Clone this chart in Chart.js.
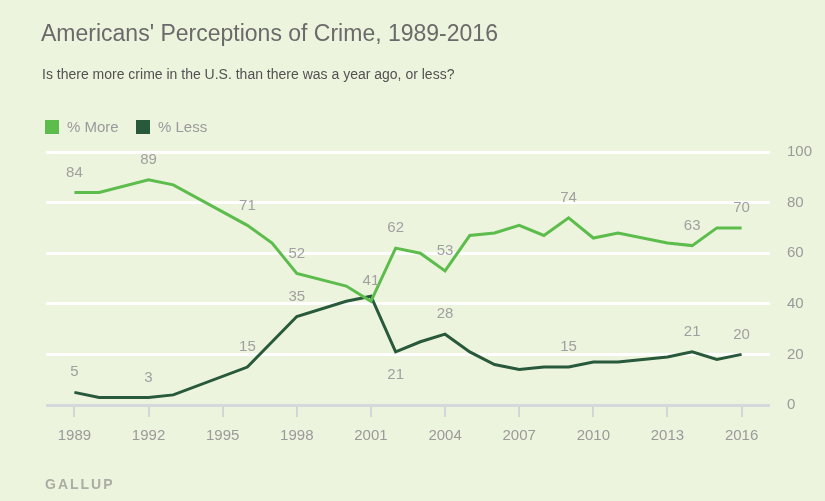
<!DOCTYPE html>
<html>
<head>
<meta charset="utf-8">
<script src="https://cdn.jsdelivr.net/npm/chart.js@4.4.0/dist/chart.umd.min.js"></script>
<style>
    html, body { margin: 0; padding: 0; background: #edf4de; }
    #wrap { position: relative; width: 825px; height: 501px; font-family: "Liberation Sans", Arial, sans-serif; }
    #chart_canvas { position: absolute; left: 0; top: 0; }
    .txt { position: absolute; white-space: nowrap; line-height: 1; }
    #chart_title { left: 41px; top: 22px; font-size: 23px; color: #6a6a6a; }
    #chart_subtitle { left: 42px; top: 67px; font-size: 14px; color: #525252; }
    .legend_item { position: absolute; top: 119px; height: 15px; display: flex; align-items: center; font-size: 15px; color: #9a9a9a; }
    .legend_box { width: 14px; height: 14px; margin-right: 8px; }
    #chart_source { left: 45px; top: 477px; font-size: 14px; font-weight: bold; letter-spacing: 2px; color: #a9ada3; }
</style>
</head>
<body>
<div id="wrap">
    <canvas id="chart_canvas" width="825" height="501"></canvas>
    <div class="txt" id="chart_title"></div>
    <div class="txt" id="chart_subtitle"></div>
    <div id="chart_legend"></div>
    <div class="txt" id="chart_source"></div>
</div>
<script>
// values
let years = [1989, 1990, 1992, 1993, 1996, 1997, 1998, 2000, 2001, 2002, 2003, 2004,
    2005, 2006, 2007, 2008, 2009, 2010, 2011, 2013, 2014, 2015, 2016];
let moreValues = [84, 84, 89, 87, 71, 64, 52, 47, 41, 62, 60, 53, 67, 68, 71, 67, 74, 66, 68, 64, 63, 70, 70];
let lessValues = [5, 3, 3, 4, 15, 25, 35, 41, 43, 21, 25, 28, 21, 16, 14, 15, 15, 17, 17, 19, 21, 18, 20];

let seriesNames = ["% More", "% Less"];
let seriesColors = ["#5cbc4c", "#28593a"];

let xTickYears = [1989, 1992, 1995, 1998, 2001, 2004, 2007, 2010, 2013, 2016];
let yTickValues = [0, 20, 40, 60, 80, 100];

// which points get a number written next to them
let moreLabelYears = [1989, 1992, 1996, 1998, 2001, 2002, 2004, 2009, 2014, 2016];
let lessLabelYears = [1989, 1992, 1996, 1998, 2002, 2004, 2009, 2014, 2016];
let lessLabelsBelow = [2002];

let titleText = "Americans' Perceptions of Crime, 1989-2016";
let subtitleText = "Is there more crime in the U.S. than there was a year ago, or less?";
let sourceText = "GALLUP";

let pointLabels = {
    id: "pointLabels",
    afterDatasetsDraw(chart){
        let ctx = chart.ctx;
        let labelYears = [moreLabelYears, lessLabelYears];
        ctx.save();
        ctx.font = "15px 'Liberation Sans', Arial, sans-serif";
        ctx.fillStyle = "#a0a0a0";
        ctx.textAlign = "center";
        ctx.textBaseline = "middle";
        chart.data.datasets.forEach((ds, di) => {
            let meta = chart.getDatasetMeta(di);
            ds.data.forEach((p, pi) => {
                if(!labelYears[di].includes(p.x)) return;
                let el = meta.data[pi];
                let below = di === 1 && lessLabelsBelow.includes(p.x);
                ctx.fillText(String(p.y), el.x, below ? el.y + 23 : el.y - 20);
            });
        });
        ctx.restore();
    }
};

document.getElementById("chart_title").innerText = titleText;
document.getElementById("chart_subtitle").innerText = subtitleText;
document.getElementById("chart_source").innerText = sourceText;

buildLegend();
drawChart();

function buildLegend(){
    let legendDiv = document.getElementById("chart_legend");
    let lefts = [45, 136];
    for(let i = 0; i < seriesNames.length; i++){
        let item = document.createElement("div");
        item.className = "legend_item";
        item.style.left = lefts[i] + "px";
        item.innerHTML = "<span class='legend_box' style='background:" + seriesColors[i] + "'></span>" + seriesNames[i];
        legendDiv.append(item);
    }
}

function toPoints(values){
    let points = [];
    for(let i = 0; i < years.length; i++){
        points.push({x: years[i], y: values[i]});
    }
    return points;
}

function drawChart(){
    let canvas = document.getElementById("chart_canvas");
    new Chart(canvas, {
        type: "line",
        data: {
            datasets: [
                {
                    label: seriesNames[0],
                    data: toPoints(moreValues),
                    borderColor: seriesColors[0],
                    borderWidth: 3,
                    pointRadius: 0,
                    tension: 0
                },
                {
                    label: seriesNames[1],
                    data: toPoints(lessValues),
                    borderColor: seriesColors[1],
                    borderWidth: 3,
                    pointRadius: 0,
                    tension: 0
                }
            ]
        },
        options: {
            responsive: false,
            animation: false,
            layout: { padding: { top: 152, left: 46, right: 0, bottom: 0 } },
            plugins: {
                legend: { display: false },
                tooltip: { enabled: false }
            },
            scales: {
                x: {
                    type: "linear",
                    min: 1987.85,
                    max: 2017.15,
                    afterBuildTicks: (axis) => { axis.ticks = xTickYears.map(v => ({value: v})); },
                    afterFit: (axis) => { axis.height = 96; },
                    border: { display: false },
                    grid: {
                        drawOnChartArea: false,
                        drawTicks: true,
                        tickLength: 12,
                        color: "#d3d6d8",
                        lineWidth: 2
                    },
                    ticks: {
                        padding: 10,
                        color: "#9a9a9a",
                        font: { size: 15, family: "'Liberation Sans', Arial, sans-serif" },
                        maxRotation: 0,
                        callback: (v) => String(v)
                    }
                },
                y: {
                    position: "right",
                    min: 0,
                    max: 100,
                    afterBuildTicks: (axis) => { axis.ticks = yTickValues.map(v => ({value: v})); },
                    afterFit: (axis) => { axis.width = 55; },
                    border: { display: false },
                    grid: {
                        drawTicks: false,
                        lineWidth: 3,
                        color: (c) => c.tick && c.tick.value === 0 ? "#d5d8dc" : "#ffffff"
                    },
                    ticks: {
                        padding: 17,
                        color: "#9a9a9a",
                        font: { size: 15, family: "'Liberation Sans', Arial, sans-serif" }
                    }
                }
            }
        },
        plugins: [pointLabels]
    });
}
</script>
</body>
</html>
